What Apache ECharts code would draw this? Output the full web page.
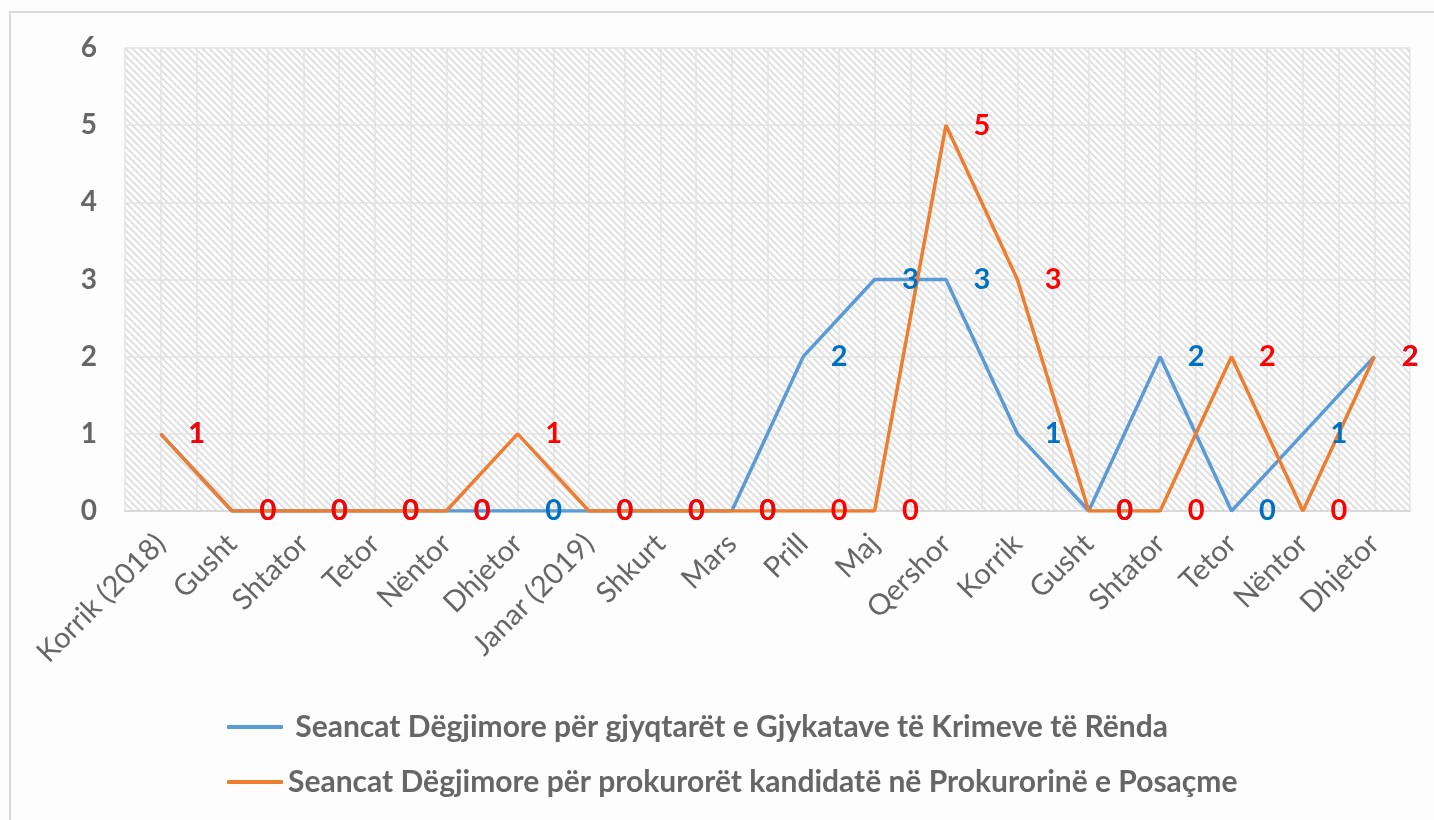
<!DOCTYPE html>
<html>
<head>
<meta charset="utf-8">
<title>Seancat Dëgjimore</title>
<script src="https://cdn.jsdelivr.net/npm/echarts@6/dist/echarts.min.js"></script>
<style>
	html, body { margin: 0; padding: 0; background: #fff; }
	#app_chart { width: 1434px; height: 820px; }
</style>
</head>
<body>
<div id="app_chart"></div>
<script>
var months = ["Korrik (2018)", "Gusht", "Shtator", "Tetor", "Nëntor", "Dhjetor", "Janar (2019)", "Shkurt", "Mars", "Prill", "Maj", "Qershor", "Korrik", "Gusht", "Shtator", "Tetor", "Nëntor", "Dhjetor"];
var judgesData = [1, 0, 0, 0, 0, 0, 0, 0, 0, 2, 3, 3, 1, 0, 2, 0, 1, 2];
var prosecutorsData = [1, 0, 0, 0, 0, 1, 0, 0, 0, 0, 0, 5, 3, 0, 0, 2, 0, 2];
var judgesName = " Seancat Dëgjimore për gjyqtarët e Gjykatave të Krimeve të Rënda";
var prosecutorsName = "Seancat Dëgjimore për prokurorët kandidatë në Prokurorinë e Posaçme";
var yTicks = [0, 1, 2, 3, 4, 5, 6];

(function(){

	var FONT = "Lato, 'Open Sans', sans-serif";

	//网格背景斜线
	function hatch(){
		var c = document.createElement("canvas");
		c.width = 7;
		c.height = 7;
		var ctx = c.getContext("2d");
		ctx.fillStyle = "#ffffff";
		ctx.fillRect(0, 0, 7, 7);
		ctx.strokeStyle = "#e0e0e0";
		ctx.lineWidth = 2;
		ctx.beginPath();
		ctx.moveTo(-1, -1); ctx.lineTo(8, 8);
		ctx.moveTo(-8, -1); ctx.lineTo(1, 8);
		ctx.moveTo(6, -1); ctx.lineTo(15, 8);
		ctx.stroke();
		return c;
	}

	function labelStyle(color){
		return {
			show: true,
			position: "right",
			distance: 27,
			color: color,
			fontFamily: FONT,
			fontWeight: "bold",
			fontSize: 29
		};
	}

	var halfCats = [];
	for (var i = 0; i < months.length * 2; i++) {
		halfCats.push("");
	}

	var option = {
		backgroundColor: "#fdfdfd",
		animation: false,
		textStyle: { fontFamily: FONT },
		graphic: [{
			type: "rect",
			shape: { x: 10, y: 12, width: 1460, height: 850 },
			style: { fill: "none", stroke: "#d9d9d9", lineWidth: 2 },
			silent: true
		}],
		grid: {
			left: 125,
			right: 24,
			top: 48,
			bottom: 309,
			show: true,
			borderWidth: 0,
			backgroundColor: { image: hatch(), repeat: "repeat" }
		},
		legend: {
			orient: "vertical",
			left: 222,
			top: 707,
			itemGap: 25,
			itemWidth: 56,
			itemHeight: 4,
			icon: "roundRect",
			data: [judgesName, prosecutorsName],
			textStyle: {
				color: "#666666",
				fontFamily: FONT,
				fontWeight: "bold",
				fontSize: 30
			}
		},
		xAxis: [{
			type: "category",
			boundaryGap: true,
			data: months,
			axisLine: { lineStyle: { color: "#d9d9d9", width: 2 } },
			axisTick: { show: false },
			splitLine: { show: false },
			axisLabel: {
				interval: 0,
				rotate: 45,
				margin: 28,
				color: "#666666",
				fontFamily: FONT,
				fontSize: 29
			}
		}, {
			type: "category",
			boundaryGap: true,
			data: halfCats,
			position: "bottom",
			axisLine: { show: false },
			axisTick: { show: false },
			axisLabel: { show: false },
			splitLine: { show: true, lineStyle: { color: "#e3e3e3", width: 1.5 } }
		}],
		yAxis: {
			type: "value",
			min: yTicks[0],
			max: yTicks[yTicks.length - 1],
			interval: 1,
			axisLine: { show: false },
			axisTick: { show: false },
			splitLine: { lineStyle: { color: "#e3e3e3", width: 1.5 } },
			axisLabel: {
				margin: 28,
				color: "#666666",
				fontFamily: FONT,
				fontWeight: "bold",
				fontSize: 28
			}
		},
		series: [{
			name: judgesName,
			type: "line",
			data: judgesData,
			symbol: "circle",
			symbolSize: 1,
			itemStyle: { color: "#5b9bd5" },
			lineStyle: { color: "#5b9bd5", width: 3.5 },
			label: labelStyle("#0070c0")
		}, {
			name: prosecutorsName,
			type: "line",
			data: prosecutorsData,
			symbol: "circle",
			symbolSize: 1,
			itemStyle: { color: "#ed7d31" },
			lineStyle: { color: "#ed7d31", width: 3.5 },
			label: labelStyle("#ff0000")
		}]
	};

	var myChart = echarts.init(document.getElementById("app_chart"));
	myChart.setOption(option);
})();
</script>
</body>
</html>
